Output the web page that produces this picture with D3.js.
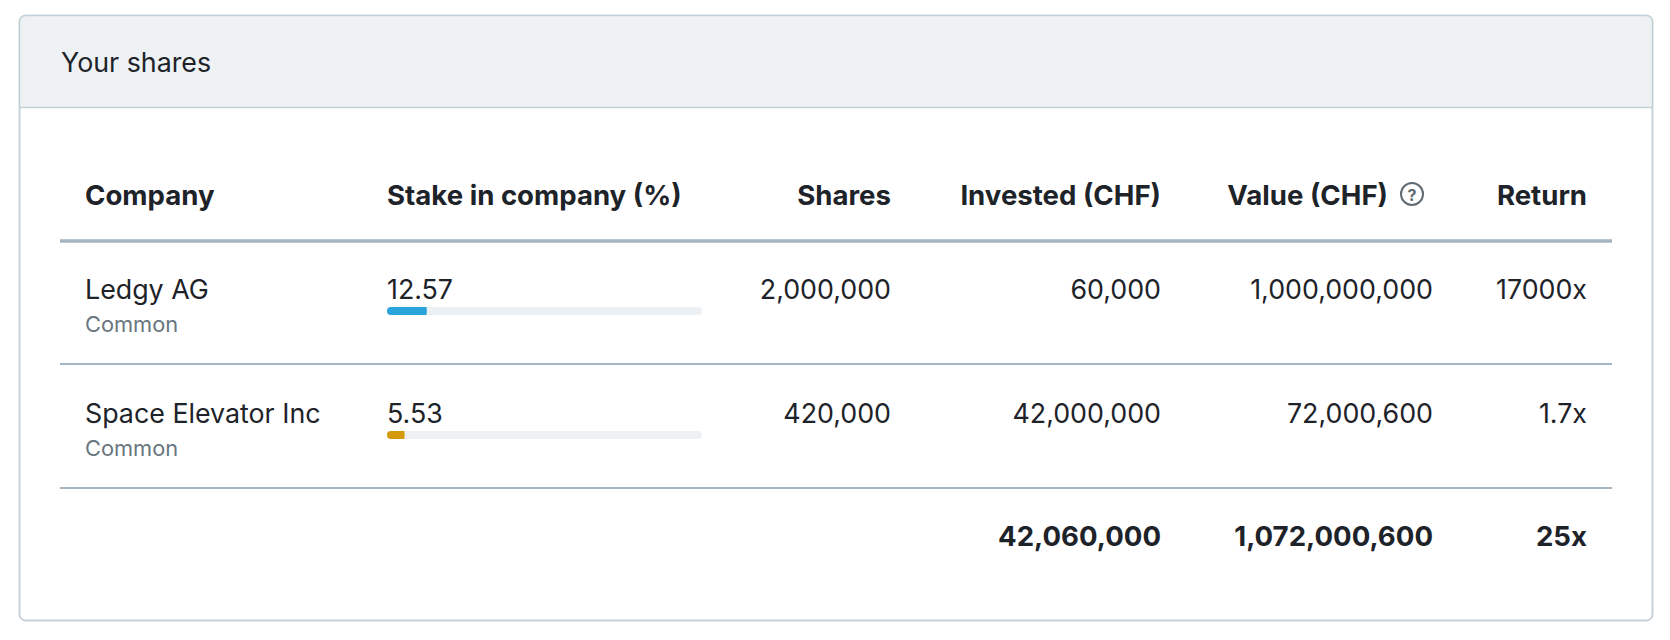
<!DOCTYPE html>
<html>
<head>
<meta charset="utf-8">
<script src="https://cdn.jsdelivr.net/npm/d3@7"></script>
<style>
  html, body { margin: 0; padding: 0; background: #ffffff; }
  svg { display: block; font-family: Inter, "Noto Sans", sans-serif; }
</style>
</head>
<body>
<svg id="chart" width="1670" height="640"></svg>
<script>
// ---- data ----
const title = "Your shares";
const headers = ["Company", "Stake in company (%)", "Shares", "Invested (CHF)", "Value (CHF)", "Return"];
const companies = ["Ledgy AG", "Space Elevator Inc"];
const shareClasses = ["Common", "Common"];
const stakes = [12.57, 5.53];
const shares = [2000000, 420000];
const invested = [60000, 42000000];
const values = [1000000000, 72000600];
const returns = ["17000x", "1.7x"];
const totalInvested = 42060000;
const totalValue = 1072000600;
const totalReturn = "25x";
const barColors = ["#2ba4db", "#d49a0b"];

// ---- layout ----
const W = 1670, H = 640;
const svg = d3.select("#chart");
const fmt = d3.format(",");
const FS = 26.8, FS_B = 27.6, FS_SUB = 21.8;

const card = { x: 19.5, y: 15.5, w: 1633, h: 605, headH: 92 };
const tableL = 60, tableR = 1612;

svg.append("rect").attr("x", card.x).attr("y", card.y).attr("width", card.w).attr("height", card.h)
  .attr("rx", 6).attr("fill", "#fff").attr("stroke", "#c3cfd7").attr("stroke-width", 1.5);
const clip = svg.append("defs").append("clipPath").attr("id", "cc");
clip.append("rect").attr("x", card.x).attr("y", card.y).attr("width", card.w).attr("height", card.h).attr("rx", 6);
svg.append("rect").attr("clip-path", "url(#cc)").attr("x", card.x).attr("y", card.y)
  .attr("width", card.w).attr("height", card.headH).attr("fill", "#eef2f5");
svg.append("line").attr("x1", card.x).attr("x2", card.x + card.w)
  .attr("y1", card.y + card.headH).attr("y2", card.y + card.headH)
  .attr("stroke", "#c3cfd7").attr("stroke-width", 1.5);
svg.append("rect").attr("x", card.x).attr("y", card.y).attr("width", card.w).attr("height", card.h)
  .attr("rx", 6).attr("fill", "none").attr("stroke", "#c3cfd7").attr("stroke-width", 1.5);

svg.append("text").attr("x", 61).attr("y", 62).attr("dominant-baseline", "central")
  .attr("font-size", FS).attr("fill", "#1d2329").text(title);

const cols = [
  { x: 85, anchor: "start" },
  { x: 387, anchor: "start" },
  { x: 891, anchor: "end" },
  { x: 1161, anchor: "end" },
  { x: 1433, anchor: "end" },
  { x: 1587, anchor: "end" }
];

const headY = 195;
headers.forEach((h, i) => {
  let x = cols[i].x;
  if (i === 4) x = 1388;
  svg.append("text").attr("x", x).attr("y", headY).attr("dominant-baseline", "central")
    .attr("text-anchor", cols[i].anchor).attr("font-size", FS_B).attr("font-weight", 700)
    .attr("fill", "#1d2329").text(h);
});
const ic = svg.append("g").attr("transform", `translate(1412,${headY - 1})`);
ic.append("circle").attr("r", 11).attr("fill", "none").attr("stroke", "#5f6a73").attr("stroke-width", 2);
ic.append("text").attr("y", 1).attr("dominant-baseline", "central").attr("text-anchor", "middle")
  .attr("font-size", 16).attr("font-weight", 700).attr("fill", "#5f6a73").text("?");

svg.append("line").attr("x1", tableL).attr("x2", tableR).attr("y1", 241).attr("y2", 241)
  .attr("stroke", "#a4b5c1").attr("stroke-width", 3.5);

const rowY = d3.scaleLinear().domain([0, 1]).range([289, 413]);
const barX = d3.scaleLinear().domain([0, 100]).range([387, 702]);
const barH = 8;

companies.forEach((c, i) => {
  const y = rowY(i);
  const g = svg.append("g");
  g.append("text").attr("x", cols[0].x).attr("y", y).attr("dominant-baseline", "central")
    .attr("font-size", FS).attr("fill", "#1d2329").text(c);
  g.append("text").attr("x", cols[0].x).attr("y", y + 35).attr("dominant-baseline", "central")
    .attr("font-size", FS_SUB).attr("fill", "#687680").text(shareClasses[i]);
  g.append("text").attr("x", cols[1].x).attr("y", y).attr("dominant-baseline", "central")
    .attr("font-size", FS).attr("fill", "#1d2329").text(stakes[i].toFixed(2));
  g.append("rect").attr("x", barX(0)).attr("y", y + 22 - barH / 2).attr("width", barX(100) - barX(0))
    .attr("height", barH).attr("rx", 4).attr("fill", "#eef1f4");
  g.append("rect").attr("x", barX(0)).attr("y", y + 22 - barH / 2).attr("width", barX(stakes[i]) - barX(0))
    .attr("height", barH).attr("rx", 4).attr("fill", barColors[i]);
  g.append("rect").attr("x", barX(stakes[i]) - 4).attr("y", y + 22 - barH / 2).attr("width", 4)
    .attr("height", barH).attr("fill", barColors[i]);
  [fmt(shares[i]), fmt(invested[i]), fmt(values[i]), returns[i]].forEach((t, k) => {
    g.append("text").attr("x", cols[k + 2].x).attr("y", y).attr("dominant-baseline", "central")
      .attr("text-anchor", "end").attr("font-size", FS).attr("fill", "#1d2329").text(t);
  });
  svg.append("line").attr("x1", tableL).attr("x2", tableR).attr("y1", y + 75).attr("y2", y + 75)
    .attr("stroke", "#a4b5c1").attr("stroke-width", 2);
});

const totY = 536;
[fmt(totalInvested), fmt(totalValue), totalReturn].forEach((t, k) => {
  svg.append("text").attr("x", cols[k + 3].x).attr("y", totY).attr("dominant-baseline", "central")
    .attr("text-anchor", "end").attr("font-size", FS_B).attr("font-weight", 700)
    .attr("fill", "#1d2329").text(t);
});
</script>
</body>
</html>
